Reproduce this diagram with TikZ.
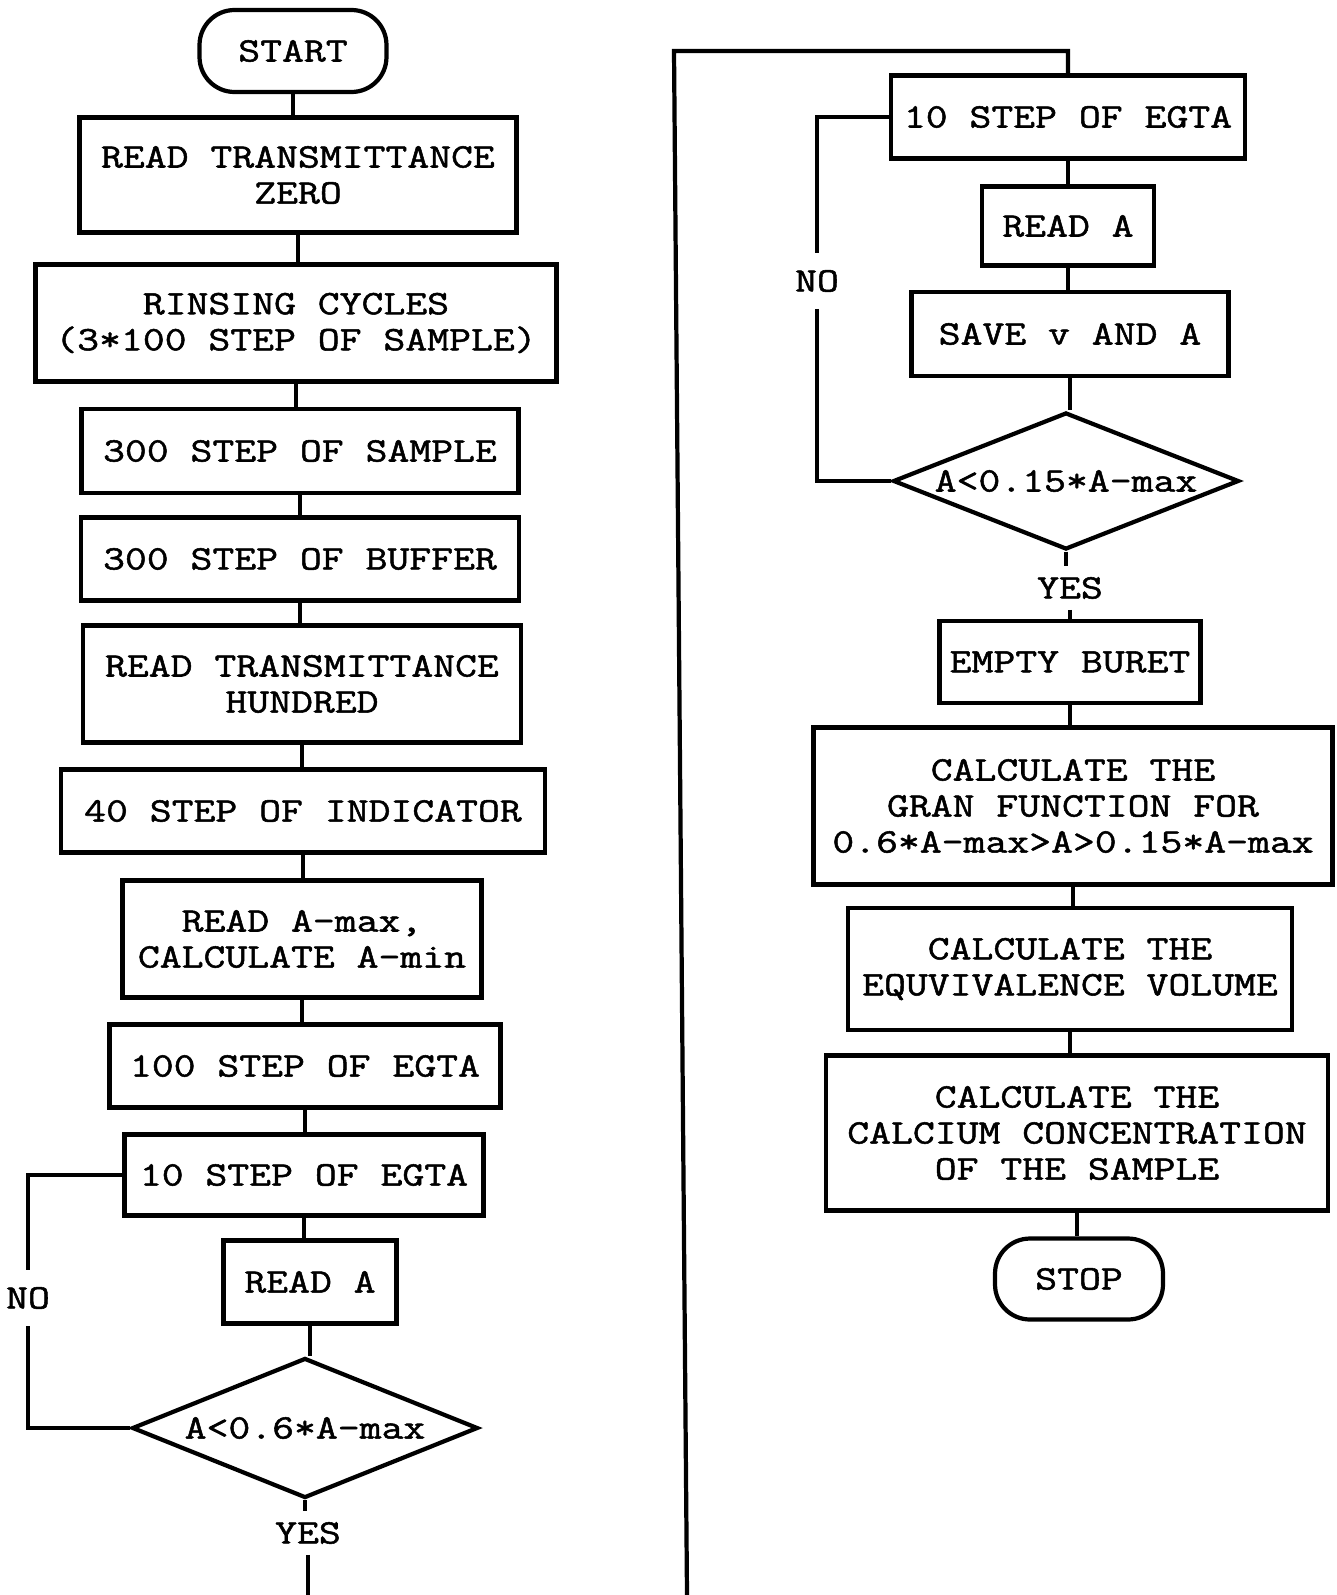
\documentclass[tikz,border=0pt]{standalone}
\usepackage{fontspec}
\usepackage{tikz}
\usetikzlibrary{shapes.geometric}
\newfontfamily\flowfont{Latin Modern Mono}[FakeStretch=1.24, FakeBold=1.5]
\tikzset{
	box/.style={draw=black, rectangle, inner sep=0pt, align=center},
	term/.style={draw=black, rectangle, rounded corners=0.7cm, inner sep=0pt},
	test/.style={draw=black, diamond, aspect=2.5, inner sep=0pt},
	answer/.style={inner sep=5pt},
}

\begin{document}
\begin{tikzpicture}[x=0.02cm, y=-0.02cm, line width=2.4pt, font=\flowfont\fontsize{19.5pt}{20.5pt}\selectfont]
					\useasboundingbox (0, 0) rectangle (1337, 1595);
					% left column
					\node[term, minimum width=3.74cm, minimum height=1.64cm] (start) at (293, 51) {START};
					\node[box, minimum width=8.74cm, minimum height=2.30cm] (zero) at (298, 175) {READ TRANSMITTANCE\\ZERO};
					\node[box, minimum width=10.42cm, minimum height=2.34cm] (rinse) at (296, 323) {RINSING CYCLES\\(3*100 STEP OF SAMPLE)};
					\node[box, minimum width=8.74cm, minimum height=1.68cm] (sample) at (300, 451) {300 STEP OF SAMPLE};
					\node[box, minimum width=8.76cm, minimum height=1.66cm] (buffer) at (300, 559) {300 STEP OF BUFFER};
					\node[box, minimum width=8.76cm, minimum height=2.34cm] (hundred) at (302, 684) {READ TRANSMITTANCE\\HUNDRED};
					\node[box, minimum width=9.68cm, minimum height=1.66cm] (indic) at (303, 811) {40 STEP OF INDICATOR};
					\node[box, minimum width=7.18cm, minimum height=2.34cm] (amax) at (302, 939) {READ A-max,\\CALCULATE A-min};
					\node[box, minimum width=7.82cm, minimum height=1.66cm] (egtaA) at (305, 1066) {100 STEP OF EGTA};
					\node[box, minimum width=7.18cm, minimum height=1.62cm] (stepA) at (304, 1175) {10 STEP OF EGTA};
					\node[box, minimum width=3.46cm, minimum height=1.66cm] (readA) at (310, 1282) {READ A};
					\node[test, minimum width=6.92cm, minimum height=2.80cm] (testA) at (305, 1428) {A<0.6*A-max};
					\node[answer] (yesA) at (308, 1533) {YES};
					\node[answer, inner ysep=0.3cm] (noA) at (28, 1298) {NO};
					\coordinate (endA) at (308, 1595);
					% right column
					\coordinate (endB) at (687, 1595);
					\coordinate (topB) at (674, 51);
					\node[box, minimum width=7.08cm, minimum height=1.66cm] (stepB) at (1068, 117) {10 STEP OF EGTA};
					\node[box, minimum width=3.44cm, minimum height=1.58cm] (readB) at (1068, 226) {READ A};
					\node[box, minimum width=6.34cm, minimum height=1.68cm] (save) at (1070, 334) {SAVE v AND A};
					\node[test, minimum width=6.92cm, minimum height=2.74cm] (testB) at (1066, 481) {A<0.15*A-max};
					\node[answer, inner ysep=0.3cm] (noB) at (817, 281) {NO};
					\node[answer] (yesB) at (1070, 588) {YES};
					\node[box, minimum width=5.22cm, minimum height=1.64cm] (buret) at (1070, 662) {EMPTY BURET};
					\node[box, minimum width=10.38cm, minimum height=3.14cm] (gran) at (1073, 806) {CALCULATE THE\\GRAN FUNCTION FOR\\0.6*A-max>A>0.15*A-max};
					\node[box, minimum width=8.88cm, minimum height=2.44cm] (equiv) at (1070, 969) {CALCULATE THE\\EQUVIVALENCE VOLUME};
					\node[box, minimum width=10.04cm, minimum height=3.10cm] (conc) at (1077, 1133) {CALCULATE THE\\CALCIUM CONCENTRATION\\OF THE SAMPLE};
					\node[term, minimum width=3.36cm, minimum height=1.62cm] (stop) at (1079, 1279) {STOP};
					% connectors
					\draw (start.south) -- (start.south |- zero.north);
					\draw (zero.south) -- (zero.south |- rinse.north);
					\draw (rinse.south) -- (rinse.south |- sample.north);
					\draw (sample.south) -- (sample.south |- buffer.north);
					\draw (buffer.south) -- (buffer.south |- hundred.north);
					\draw (hundred.south) -- (hundred.south |- indic.north);
					\draw (indic.south) -- (indic.south |- amax.north);
					\draw (amax.south) -- (amax.south |- egtaA.north);
					\draw (egtaA.south) -- (egtaA.south |- stepA.north);
					\draw (stepA.south) -- (stepA.south |- readA.north);
					\draw (readA.south) -- (readA.south |- testA.north);
					\draw (testA.south) -- (testA.south |- yesA.north);
					\draw (yesA.south) -- (yesA.south |- endA);
					\draw (stepA.west) -| (noA.north);
					\draw (noA.south) |- (testA.west);
					\draw (endB) -- (topB) -| (stepB.north);
					\draw (stepB.south) -- (stepB.south |- readB.north);
					\draw (readB.south) -- (readB.south |- save.north);
					\draw (save.south) -- (save.south |- testB.north);
					\draw (testB.south) -- (testB.south |- yesB.north);
					\draw (yesB.south) -- (yesB.south |- buret.north);
					\draw (stepB.west) -| (noB.north);
					\draw (noB.south) |- (testB.west);
					\draw (buret.south) -- (buret.south |- gran.north);
					\draw (gran.south) -- (gran.south |- equiv.north);
					\draw (equiv.south) -- (equiv.south |- conc.north);
					\draw (conc.south) -- (conc.south |- stop.north);
				\end{tikzpicture}
\end{document}
